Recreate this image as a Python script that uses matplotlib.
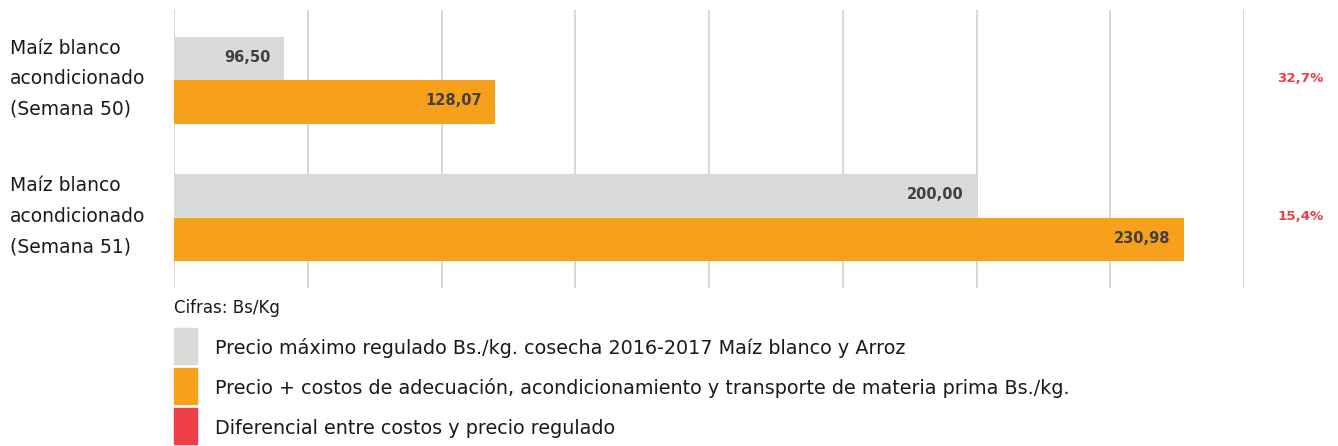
import matplotlib.pyplot as plt
import matplotlib.transforms as mtrans
from matplotlib.patches import Rectangle

plt.rcParams['font.family'] = ['DejaVu Sans']

# datos
categorias = ['Maíz blanco\nacondicionado\n(Semana 50)',
              'Maíz blanco\nacondicionado\n(Semana 51)']
precio_regulado = [96.50, 200.00]
precio_costos = [128.07, 230.98]
diferencial = ['32,7%', '15,4%']
leyenda = ['Precio máximo regulado Bs./kg. cosecha 2016-2017 Maíz blanco y Arroz',
           'Precio + costos de adecuación, acondicionamiento y transporte de materia prima Bs./kg.',
           'Diferencial entre costos y precio regulado']

GRIS = '#d9dbd8'
NARANJA = '#f7a01c'
ROJO = '#ee3e48'
TEXTO = '#404040'

W, H = 1338, 446
fig = plt.figure(figsize=(W / 100, H / 100), dpi=100)
ax = fig.add_axes([174 / W, 1 - 288 / H, (1244 - 174) / W, (288 - 10) / H])

y = list(range(len(categorias)))
h = 0.315
y_gris = [v - h / 2 for v in y]
y_nar = [v + h / 2 for v in y]
ax.barh(y_gris, precio_regulado, height=h, color=GRIS, zorder=2)
ax.barh(y_nar, precio_costos, height=h, color=NARANJA, zorder=2)

ax.set_xlim(80, 240)
ax.set_ylim(1.51, -0.51)
ax.set_xticks(range(80, 241, 20))
ax.xaxis.grid(True, color='#d0d0d0', lw=1.2, zorder=0)
ax.tick_params(length=0, labelbottom=False, labelleft=False)
ax.set_yticks([])
for s in ax.spines.values():
    s.set_visible(False)

# etiquetas de valor
for yy, v in zip(y_gris, precio_regulado):
    ax.text(v - 2.0, yy - 0.01, f'{v:.2f}'.replace('.', ','), ha='right', va='center',
            fontsize=10.5, fontweight='bold', color=TEXTO, zorder=3)
for yy, v in zip(y_nar, precio_costos):
    ax.text(v - 2.0, yy - 0.01, f'{v:.2f}'.replace('.', ','), ha='right', va='center',
            fontsize=10.5, fontweight='bold', color=TEXTO, zorder=3)

# porcentajes a la derecha
tr = mtrans.blended_transform_factory(ax.transAxes, ax.transData)
for yy, p in zip(y, diferencial):
    ax.text(1.053, yy - 0.01, p, transform=tr, ha='center', va='center',
            fontsize=9.6, fontweight='bold', color=ROJO)

# categorias
tr2 = mtrans.blended_transform_factory(fig.transFigure, ax.transData)
for yy, c in zip(y, categorias):
    ax.text(10 / W, yy - 0.01, c, transform=tr2, ha='left', va='center',
            fontsize=13.5, color='#1a1a1a', linespacing=1.77)

# leyenda
fig.text(174 / W, 1 - 308 / H, 'Cifras: Bs/Kg', ha='left', va='center',
         fontsize=12, color='#1a1a1a')
for i, (txt, col) in enumerate(zip(leyenda, [GRIS, NARANJA, ROJO])):
    top = 328 + i * 40
    fig.patches.append(Rectangle((174 / W, 1 - (top + 36) / H), 23 / W, 36 / H,
                                 transform=fig.transFigure, color=col))
    fig.text(215 / W, 1 - (top + 20) / H, txt, ha='left', va='center',
             fontsize=13.8, color='#1a1a1a')

fig.savefig('out.png', dpi=100)
